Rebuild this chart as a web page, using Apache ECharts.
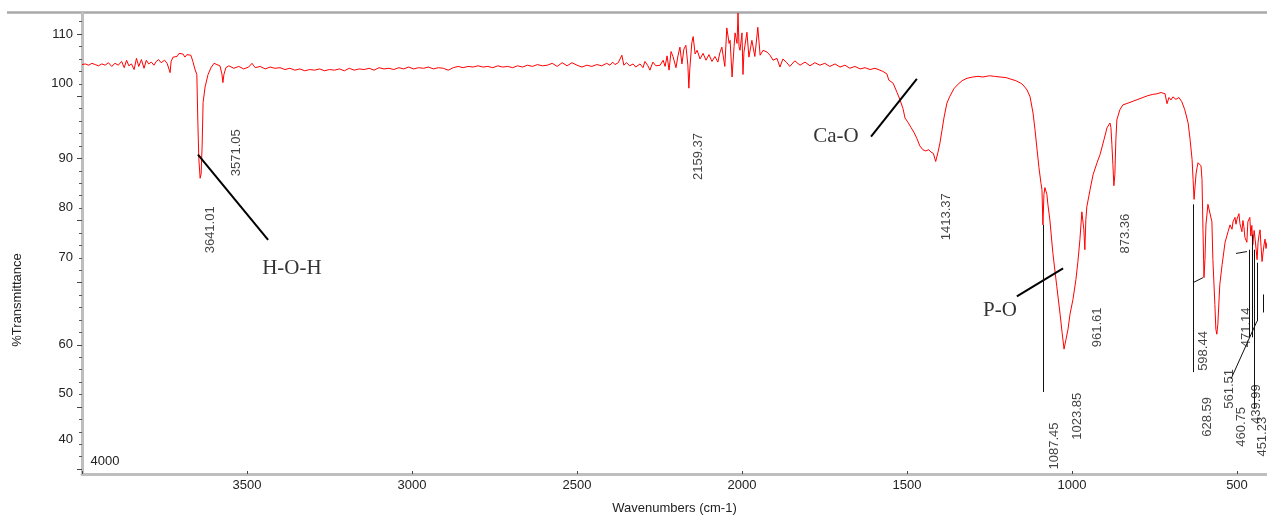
<!DOCTYPE html>
<html>
<head>
<meta charset="utf-8">
<title>FTIR spectrum</title>
<script src="https://cdn.jsdelivr.net/npm/echarts@6/dist/echarts.min.js"></script>
<style>
    html, body { margin: 0; padding: 0; background: #fff; }
    #ftirChart { width: 1267px; height: 520px; }
</style>
</head>
<body>
<div id="ftirChart"></div>
<script>
// spectrum (cm-1, %T)
var wavenumber = [
    4000,3990,3980,3970,3960,3950,3940,3930,3920,3910,
    3900,3890,3880,3872,3865,3858,3850,3842,3835,3828,
    3820,3812,3805,3798,3790,3782,3775,3768,3760,3750,
    3742,3736,3733,3730,3724,3718,3712,3706,3700,3694,
    3688,3682,3676,3670,3664,3658,3652,3649,3646,3642,
    3639,3636,3633,3627,3618,3609,3600,3591,3582,3576,
    3573,3570,3564,3555,3540,3525,3510,3495,3485,3475,
    3460,3445,3430,3415,3400,3385,3370,3355,3340,3325,
    3310,3295,3280,3265,3250,3235,3220,3205,3190,3175,
    3160,3145,3130,3115,3100,3085,3070,3055,3040,3025,
    3010,2995,2980,2965,2950,2935,2920,2905,2890,2875,
    2860,2845,2830,2815,2800,2785,2770,2755,2740,2725,
    2710,2695,2680,2665,2650,2635,2620,2605,2590,2575,
    2560,2545,2530,2515,2500,2485,2470,2455,2440,2425,
    2410,2400,2392,2385,2375,2364,2358,2350,2340,2330,
    2322,2309,2300,2294,2285,2279,2270,2261,2248,2239,
    2233,2227,2221,2215,2209,2200,2194,2188,2182,2176,
    2170,2164,2161,2158,2152,2148,2142,2136,2127,2118,
    2109,2100,2091,2082,2073,2067,2061,2052,2046,2039,
    2036,2030,2024,2021,2015,2012,2009,2006,2000,1997,
    1994,1985,1979,1970,1961,1952,1945,1936,1924,1915,
    1906,1894,1885,1876,1864,1855,1840,1824,1809,1794,
    1779,1764,1749,1734,1718,1703,1688,1673,1658,1642,
    1627,1612,1597,1582,1573,1561,1555,1549,1542,1530,
    1521,1512,1506,1497,1488,1479,1470,1461,1452,1443,
    1434,1427,1420,1413,1406,1400,1394,1388,1379,1370,
    1358,1348,1333,1318,1300,1285,1270,1250,1235,1218,
    1200,1188,1170,1155,1148,1136,1127,1118,1112,1106,
    1100,1094,1091,1088,1085,1082,1079,1076,1073,1067,
    1058,1046,1036,1030,1024,1018,1012,1006,997,988,
    982,976,970,967,964,961,958,955,945,936,
    924,915,903,894,885,882,879,876,873,870,
    867,864,855,846,830,815,800,785,770,755,
    742,730,724,718,712,706,700,694,685,676,
    667,658,648,642,636,633,630,627,624,621,
    618,615,612,609,606,603,600,597,594,588,
    582,576,573,567,564,561,558,552,545,536,
    527,521,515,512,506,503,500,494,491,485,
    482,479,476,470,467,461,458,455,452,448,
    445,439,436,433,430,427,424,421,418,415,
    412,409
];
var transmittance = [
    105.1,105.2,105.0,105.3,105.1,104.9,105.2,105.0,105.4,104.8,
    105.3,105.0,105.6,104.6,105.8,104.9,105.2,104.3,106.1,104.8,
    105.9,104.5,105.8,105.2,105.5,105.0,105.6,105.9,105.4,105.8,
    105.3,105.5,103.8,105.6,106.3,106.6,106.4,106.9,106.6,106.8,
    106.3,106.7,106.5,106.6,105.6,104.4,103.5,96.0,90.0,86.8,
    87.5,92.0,99.0,101.5,103.5,104.6,105.3,105.1,104.9,103.6,
    102.2,103.5,104.6,104.9,104.5,104.8,104.4,104.7,105.3,104.6,
    104.8,104.4,104.7,104.5,104.6,104.3,104.5,104.2,104.4,104.1,
    104.3,104.2,104.4,104.1,104.3,104.2,104.4,104.1,104.5,104.2,
    104.4,104.3,104.5,104.2,104.6,104.4,104.5,104.3,104.6,104.4,
    104.7,104.4,104.6,104.5,104.7,104.4,104.6,104.5,104.2,104.6,
    104.8,104.6,104.8,104.7,104.9,104.7,104.8,104.6,104.9,104.7,
    104.8,104.6,104.9,104.7,105.0,104.8,105.1,104.9,105.0,105.3,
    104.8,105.4,104.9,105.4,105.0,104.7,105.0,104.8,105.1,104.9,
    105.3,105.0,105.5,105.1,105.4,106.6,105.0,105.4,104.9,105.2,
    104.7,105.2,104.6,105.6,104.9,104.2,105.5,104.9,105.0,105.8,
    104.8,106.5,104.2,107.2,106.4,104.6,106.5,107.9,105.2,107.6,
    108.2,105.0,101.3,104.5,108.6,109.6,106.8,107.4,106.0,106.9,
    105.8,106.7,105.6,106.4,105.5,107.0,107.9,104.8,111.0,108.5,
    109.0,103.1,108.0,110.2,108.5,113.4,108.0,107.4,110.2,103.5,
    107.1,110.3,106.3,109.0,106.4,111.1,106.6,107.4,107.1,106.6,
    105.8,106.1,104.7,106.0,105.4,104.8,105.7,105.0,105.5,104.9,
    105.4,105.0,105.3,104.8,105.2,104.7,105.0,104.5,104.8,104.4,
    104.6,104.3,104.5,104.2,104.0,103.6,102.6,102.9,102.1,100.6,
    99.4,98.0,96.5,95.8,95.0,94.2,93.2,92.0,91.4,91.2,
    91.4,91.0,90.8,89.5,91.0,92.5,94.5,96.5,98.9,100.0,
    101.2,101.8,102.5,102.9,103.1,103.2,103.1,103.3,103.2,103.1,
    103.0,102.8,102.5,102.1,101.8,101.0,99.9,97.3,94.6,91.5,
    88.5,86.0,85.0,79.3,84.2,85.3,85.0,84.2,82.6,80.1,
    74.8,69.4,64.9,62.0,59.3,60.9,62.5,64.9,67.3,70.5,
    73.4,76.9,81.4,81.7,78.5,75.3,80.1,82.2,85.0,87.4,
    89.3,90.6,93.0,94.9,95.7,95.0,92.2,89.0,85.6,87.4,
    93.0,96.2,97.8,98.6,98.9,99.2,99.5,99.8,100.1,100.3,
    100.4,100.6,100.7,100.4,98.8,99.8,99.4,99.9,99.5,99.8,
    99.1,97.8,95.7,93.0,89.8,86.6,83.4,85.5,87.5,88.5,
    89.3,89.5,89.3,88.8,86.6,78.5,70.8,73.7,79.3,82.6,
    82.3,79.8,73.7,66.5,62.5,61.7,63.3,69.7,72.9,76.5,
    78.2,79.3,78.6,79.8,80.5,79.4,80.2,81.1,79.5,78.2,
    80.0,79.0,77.3,76.5,79.8,80.5,77.5,79.2,76.1,78.4,
    77.0,73.7,76.5,77.7,78.5,75.8,73.4,74.8,76.1,77.0,
    75.5,76.5
];

// peak picks and band names
var peakNames = ['3641.01', '3571.05', '2159.37', '1413.37', '873.36', '961.61', '1023.85', '1087.45',
    '598.44', '628.59', '561.51', '471.14', '460.75', '439.99', '451.23'];
var bandNames = ['H-O-H', 'Ca-O', 'P-O'];

// tick values
var xTicks = [500, 1000, 1500, 2000, 2500, 3000, 3500];
var xTickMarks = [500, 1000, 1500, 2000, 2500, 3000, 3500, 4000];
var yTicks = [40, 50, 60, 70, 80, 90, 100, 110];
var yMinorTicks = [42, 44, 46, 48, 52, 54, 56, 58, 62, 64, 66, 68, 72, 74, 76, 78,
    82, 84, 86, 88, 92, 94, 96, 98, 102, 104, 106, 108, 112];

// where the texts and leader lines sit, in axis units (cm-1, %T)
var peakLabelAt = [[3612, 78.5], [3533, 90.9], [2133, 90.3], [1379, 80.6], [839, 77.9], [924, 62.8],
    [985, 48.5], [1054, 43.7], [603, 59.0], [591, 48.4], [524, 52.9], [470, 62.8], [488, 46.8],
    [442, 50.45], [424, 45.2]];
var bandLabelAt = [[3364, 72.3], [1715, 93.6], [1218, 65.5]];
var bandLeaders = [
    [[3648.5, 90.6], [3436, 76.9]],
    [[1609, 93.5], [1470, 102.8]],
    [[1167, 67.8], [1027, 72.3]]
];
var peakLeaders = [
    [[1087.9, 79.3], [1087.9, 52.4]],
    [[633.3, 82.6], [633.3, 55.6]],
    [[633.3, 70.0], [603, 70.8]],
    [[463.6, 75.3], [463.6, 61.2]],
    [[454.5, 77.7], [454.5, 61.2]],
    [[448.5, 75.3], [448.5, 49.7]],
    [[439.4, 73.2], [439.4, 63.8]],
    [[439.4, 63.8], [518, 54.5]],
    [[503, 74.7], [469.7, 75.0]],
    [[421, 68.1], [421, 65.2]]
];

// y labels in the picture sit a little above some ticks
var yLabelLift = {100: 13, 80: 13, 70: 25, 50: 13, 40: 30};

var sansFont = '"Liberation Sans", Arial, sans-serif';
var serifFont = '"Liberation Serif", "Times New Roman", serif';

var spectrum = wavenumber.map(function (w, i) { return [w, transmittance[i]]; });

var yRich = {};
Object.keys(yLabelLift).forEach(function (k) {
    var lift = yLabelLift[k];
    yRich['l' + lift] = {fontSize: 13, color: '#222', fontFamily: sansFont, padding: [0, 0, lift * 2, 0]};
});

var leaderData = [];
bandLeaders.forEach(function (l) {
    leaderData.push([{coord: l[0], lineStyle: {color: '#000', width: 2, type: 'solid'}}, {coord: l[1]}]);
});
peakLeaders.forEach(function (l) {
    leaderData.push([{coord: l[0], lineStyle: {color: '#111', width: 1, type: 'solid'}}, {coord: l[1]}]);
});

var myChart = echarts.init(document.getElementById('ftirChart'));

var option = {
    animation: false,
    backgroundColor: '#fff',
    grid: {left: 82, right: 0, top: 13, bottom: 45},
    xAxis: {
        type: 'value',
        inverse: true,
        min: 409,
        max: 4000,
        splitNumber: 7,
        name: 'Wavenumbers (cm-1)',
        nameLocation: 'middle',
        nameGap: 28,
        nameTextStyle: {fontSize: 13, color: '#222', fontFamily: sansFont},
        axisLine: {lineStyle: {color: '#bebebe', width: 3}},
        axisTick: {inside: true, length: 3, lineStyle: {color: '#444'}, customValues: xTickMarks},
        axisLabel: {
            fontSize: 13, color: '#222', fontFamily: sansFont, margin: 5, customValues: xTicks,
            formatter: function (v) { return String(v); }
        },
        splitLine: {show: false}
    },
    yAxis: [{
        type: 'value',
        min: 39.2,
        max: 113.4,
        splitNumber: 7,
        axisLine: {show: true, lineStyle: {color: '#bebebe', width: 3}},
        axisTick: {show: true, length: 5, lineStyle: {color: '#444'}, customValues: yTicks},
        axisLabel: {
            fontSize: 13, color: '#222', fontFamily: sansFont, margin: 9,
            customValues: yTicks,
            formatter: function (v) {
                var lift = yLabelLift[v];
                return lift ? '{l' + lift + '|' + v + '}' : String(v);
            },
            rich: yRich
        },
        splitLine: {show: false}
    }, {
        type: 'value',
        min: 39.2,
        max: 113.4,
        position: 'left',
        axisLine: {show: false},
        axisTick: {show: true, length: 3, lineStyle: {color: '#555'}, customValues: yMinorTicks},
        axisLabel: {show: false},
        splitLine: {show: false}
    }],
    graphic: [
        {type: 'line', shape: {x1: 7, y1: 12.5, x2: 1267, y2: 12.5}, style: {stroke: '#a8a8a8', lineWidth: 2.5}, silent: true},
        {type: 'text', x: 105, y: 461, style: {text: '4000', font: '13px ' + sansFont, fill: '#222', textAlign: 'center', textVerticalAlign: 'middle'}, silent: true},
        {type: 'text', x: 17, y: 300, rotation: Math.PI / 2, style: {text: '%Transmittance', font: '13px ' + sansFont, fill: '#222', textAlign: 'center', textVerticalAlign: 'middle'}, silent: true}
    ],
    series: [{
        name: 'spectrum',
        type: 'line',
        data: spectrum,
        showSymbol: false,
        symbol: 'none',
        sampling: false,
        lineStyle: {color: '#ff0000', width: 1},
        z: 3,
        silent: true
    }, {
        name: 'peaks',
        type: 'scatter',
        data: peakLabelAt.map(function (p, i) { return {name: peakNames[i], value: p}; }),
        symbolSize: 1,
        itemStyle: {color: 'rgba(0,0,0,0)'},
        silent: true,
        label: {show: true, position: 'inside', rotate: 90, formatter: '{b}', fontSize: 13, color: '#111', fontFamily: sansFont},
        markLine: {
            silent: true,
            symbol: ['none', 'none'],
            label: {show: false},
            data: leaderData
        },
        z: 4
    }, {
        name: 'bands',
        type: 'scatter',
        data: bandLabelAt.map(function (p, i) { return {name: bandNames[i], value: p}; }),
        symbolSize: 1,
        itemStyle: {color: 'rgba(0,0,0,0)'},
        silent: true,
        label: {show: true, position: 'inside', formatter: '{b}', fontSize: 21, color: '#000', fontFamily: serifFont},
        z: 4
    }]
};

myChart.setOption(option);
</script>
</body>
</html>
